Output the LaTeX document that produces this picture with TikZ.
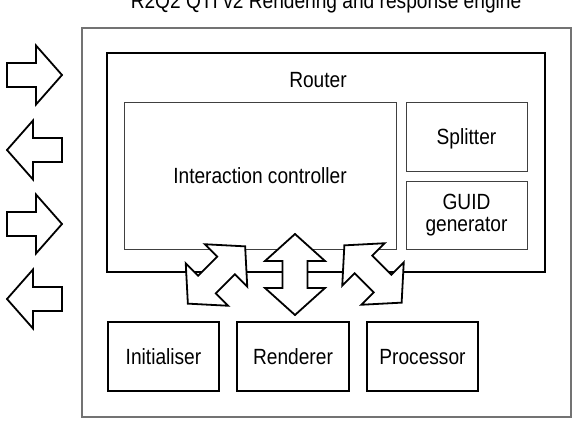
\documentclass[tikz,border=0pt]{standalone}
\usepackage{fontspec}
\setmainfont{Liberation Sans}[FakeStretch=0.87]
\begin{document}
\begin{tikzpicture}[x=1pt,y=-1pt,
  thinbox/.style={draw=black!75, line width=0.9pt, rectangle, inner sep=0pt, font=\fontsize{22}{22}\selectfont},
  thickbox/.style={draw=black, line width=2pt, rectangle, inner sep=0pt, font=\fontsize{22}{22}\selectfont},
  outerbox/.style={draw=black!55, line width=1.2pt, rectangle, inner sep=0pt},
  blockarrow/.style={draw=black, fill=white, line width=1.8pt, line join=miter, miter limit=10},
  lbl/.style={font=\fontsize{22}{22}\selectfont, inner sep=0pt},
  capsonly/.style={text height=16pt, text depth=0pt},
  dblarrow/.pic={\draw[blockarrow] (-40.5,0) -- (-13.5,30) -- (-13.5,12.5) -- (13.5,12.5) -- (13.5,30) -- (40.5,0) -- (13.5,-30) -- (13.5,-12.5) -- (-13.5,-12.5) -- (-13.5,-30) -- cycle;},
  sglarrow/.pic={\draw[blockarrow] (-27.5,-12) -- (1.5,-12) -- (1.5,-29.5) -- (27.5,0) -- (1.5,29.5) -- (1.5,12) -- (-27.5,12) -- cycle;}
]
\useasboundingbox (0,0) rectangle (581,426);
\clip (0,0) rectangle (581,426);

% title
\node[lbl, anchor=base] (title) at (326,8) {R2Q2 QTI v2 Rendering and response engine};

% outer engine box
\node[outerbox, minimum width=489pt, minimum height=389pt] (engine) at (326.5,222.5) {};

% router
\node[thickbox, minimum width=438pt, minimum height=219pt] (router) at (326,162.5) {};
\node[lbl, anchor=base] (routerlabel) at (318,87) {Router};

\node[thinbox, capsonly, minimum width=272pt, minimum height=147pt] (inter) at (260,175.5) {Interaction controller};
\node[thinbox, capsonly, minimum width=121pt, minimum height=69pt] (split) at (466.5,136.5) {Splitter};
\node[thinbox, align=center, minimum width=121pt, minimum height=68pt] (guid) at (466.5,215) {GUID\\[-0.5pt]generator};

% bottom components
\node[thickbox, capsonly, minimum width=111pt, minimum height=69pt] (init) at (163.5,356.5) {Initialiser};
\node[thickbox, capsonly, minimum width=112pt, minimum height=69pt] (rend) at (293,356.5) {Renderer};
\node[thickbox, capsonly, minimum width=111pt, minimum height=69pt] (proc) at (422.5,356.5) {Processor};

% double block arrows between router and components
\pic[rotate=45] at (216.5,275) {dblarrow};
\pic[rotate=90] at (295,274.5) {dblarrow};
\pic[rotate=-45] at (373,274) {dblarrow};

% external block arrows
\pic at (34.5,75) {sglarrow};
\pic[rotate=180] at (34.5,150) {sglarrow};
\pic at (34.5,224) {sglarrow};
\pic[rotate=180] at (34.5,299) {sglarrow};
\end{tikzpicture}
\end{document}
